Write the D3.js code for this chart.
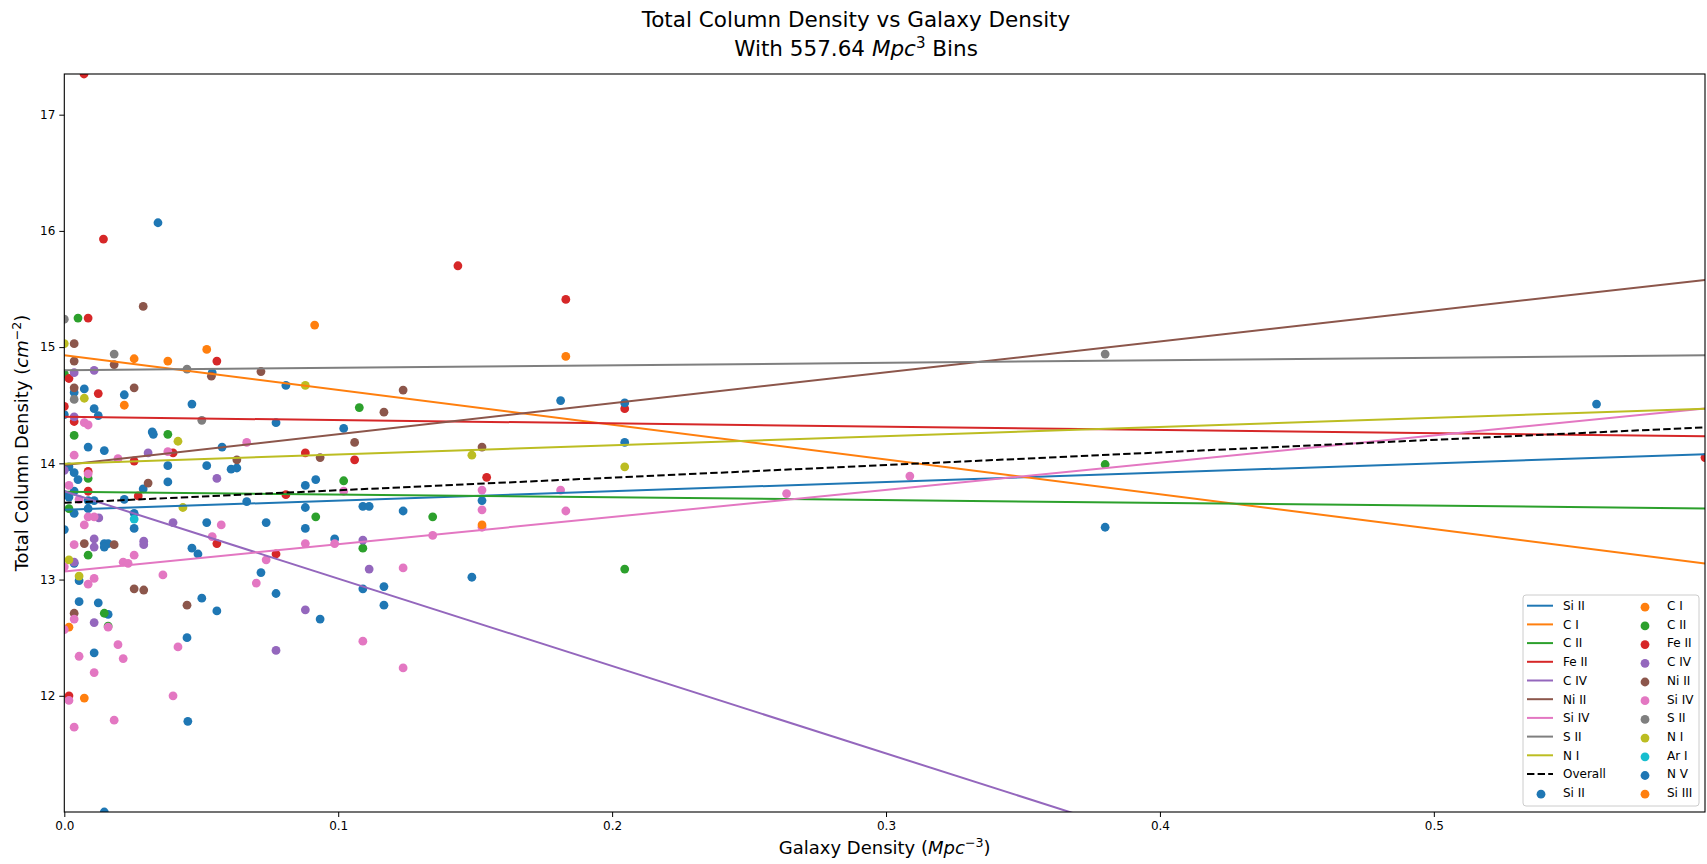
<!DOCTYPE html>
<html>
<head>
<meta charset="utf-8">
<script src="https://cdn.jsdelivr.net/npm/d3@7"></script>
<style>
  body { margin: 0; background: #fff; }
  svg { display: block; font-family: "DejaVu Sans", sans-serif; }
</style>
</head>
<body>
<svg id="chart" width="1707" height="864"></svg>
<script>
// 拟合直线：每个离子的截距和斜率
const lineIons = ["Si II", "C I", "C II", "Fe II", "C IV", "Ni II", "Si IV", "S II", "N I"];
const lineIntercepts = [13.60, 14.93, 13.756, 14.40, 13.76, 13.985, 13.07, 14.80, 13.997];
const lineSlopes = [0.80, -2.99, -0.24, -0.28, -7.52, 2.66, 2.34, 0.217, 0.79];
const overallIntercept = 13.66;
const overallSlope = 1.085;

// 散点数据 [星系密度, 总柱密度]
const pointsSiII = [
  [0.0342, 16.07], [0.0540, 14.78], [0.0809, 14.67], [0.1020, 14.30], [0.0773, 14.35],
  [0.0466, 14.51], [0.0219, 14.59], [0.0109, 14.47], [0.0124, 14.41], [0.0073, 14.64],
  [0.0036, 14.61], [0, 14.42], [0.0321, 14.27], [0.0325, 14.25], [0.0087, 14.14],
  [0.0146, 14.11], [0.0576, 14.14], [0.0378, 13.98], [0.0520, 13.98], [0.0609, 13.95],
  [0.0630, 13.96], [0.0017, 13.97], [0.0036, 13.92], [0.0050, 13.86], [0.0288, 13.78],
  [0.0378, 13.84], [0.0666, 13.67], [0.0880, 13.81], [0.0918, 13.86], [0.0880, 13.62],
  [0.0880, 13.44], [0.0987, 13.35], [0.1090, 13.63], [0.1113, 13.63], [0.1090, 12.92],
  [0.1167, 12.94], [0.1167, 12.78], [0.0934, 12.66], [0.0773, 12.88], [0.0718, 13.06],
  [0.0737, 13.49], [0.0520, 13.49], [0.0466, 13.27], [0.0488, 13.22], [0.0502, 12.84],
  [0.0557, 12.73], [0.0448, 12.50], [0.0451, 11.78], [0.0146, 13.31], [0.0160, 13.31],
  [0.0146, 13.28], [0.0255, 13.44], [0.0255, 13.57], [0.0219, 13.69], [0.0087, 13.61],
  [0.0109, 13.68], [0.0036, 13.14], [0.0054, 12.99], [0.0054, 12.81], [0.0124, 12.80],
  [0.0160, 12.70], [0.0109, 12.37], [0.0146, 11.00], [0, 13.43], [0, 13.73],
  [0.0017, 13.71], [0.0036, 13.76], [0.0087, 13.68], [0.0036, 13.57], [0.1237, 13.59]
];
const pointsCI = [
  [0.0914, 15.19], [0.0520, 14.98], [0.0255, 14.90], [0.0378, 14.88], [0.1831, 14.92],
  [0.0219, 14.50], [0.0017, 12.59], [0.0073, 11.98]
];
const pointsCII = [
  [0.0050, 15.25], [0.1077, 14.48], [0.0036, 14.24], [0.0378, 14.25], [0.0087, 13.87],
  [0.1020, 13.85], [0.0918, 13.54], [0.1090, 13.27], [0.0087, 13.21], [0.0017, 13.61],
  [0.0146, 12.71], [0.0160, 12.60], [0.1345, 13.54], [0.2046, 13.09], [0.3800, 13.99],
  [0, 14.77]
];
const pointsFeII = [
  [0.0072, 17.35], [0.0143, 15.93], [0.1437, 15.70], [0.1831, 15.41], [0.0087, 15.25],
  [0.0557, 14.88], [0.0017, 14.73], [0.0124, 14.60], [0, 14.49], [0.0036, 14.36],
  [0.0880, 14.09], [0.1060, 14.03], [0.0397, 14.09], [0.0255, 14.02], [0.0087, 13.93],
  [0.0087, 13.76], [0.0270, 13.72], [0.0809, 13.73], [0.0773, 13.22], [0.0557, 13.31],
  [0.0017, 12.00], [0.2046, 14.47], [0.1542, 13.88], [0.5990, 14.05]
];
const pointsCIV = [
  [0.0036, 14.78], [0.0109, 14.80], [0.0036, 14.40], [0.0306, 14.09], [0, 13.94],
  [0.0557, 13.87], [0.1090, 13.34], [0.1113, 13.09], [0.0880, 12.74], [0.0773, 12.39],
  [0.0397, 13.49], [0.0290, 13.33], [0.0290, 13.30], [0.0126, 13.53], [0.0109, 13.35],
  [0.0109, 13.28], [0.0036, 13.15], [0.0109, 12.63]
];
const pointsNiII = [
  [0.0288, 15.35], [0.0036, 15.03], [0.0036, 14.88], [0.0182, 14.85], [0.0537, 14.75],
  [0.0718, 14.79], [0.1167, 14.44], [0.1237, 14.63], [0.0255, 14.65], [0.0036, 14.65],
  [0.1060, 14.18], [0.0934, 14.05], [0.0630, 14.03], [0.0306, 13.83], [0.0448, 12.78],
  [0.0255, 12.92], [0.0290, 12.91], [0.0182, 13.30], [0.0073, 13.31], [0.0036, 12.71],
  [0.1525, 14.14]
];
const pointsSiIV = [
  [0.0073, 14.35], [0.0087, 14.33], [0.0666, 14.18], [0.0036, 14.07], [0.0196, 14.04],
  [0.0378, 14.10], [0.0017, 13.81], [0.0087, 13.91], [0.1020, 13.76], [0.0987, 13.31],
  [0.0880, 13.31], [0.1090, 12.47], [0.0701, 12.97], [0.0737, 13.17], [0.0573, 13.47],
  [0.0540, 13.37], [0.0360, 13.04], [0.0415, 12.42], [0.0397, 12.00], [0.0255, 13.21],
  [0.0215, 13.15], [0.0233, 13.14], [0.0109, 13.54], [0.0087, 13.54], [0.0073, 13.47],
  [0.0036, 13.30], [0, 13.11], [0.0087, 12.96], [0.0109, 13.01], [0.0036, 12.66],
  [0, 12.57], [0.0160, 12.59], [0.0054, 12.34], [0.0196, 12.44], [0.0215, 12.32],
  [0.0109, 12.20], [0.0017, 11.96], [0.0036, 11.73], [0.0182, 11.79], [0.0054, 13.69],
  [0.1525, 13.77], [0.1525, 13.60], [0.1525, 13.45], [0.1812, 13.77], [0.1831, 13.59],
  [0.1345, 13.38], [0.2637, 13.74], [0.1237, 13.10], [0.1237, 12.24], [0.3087, 13.89]
];
const pointsSII = [[0, 15.24], [0.0182, 14.94], [0.0448, 14.81], [0.0036, 14.55], [0.0502, 14.37], [0.3800, 14.94]];
const pointsNI = [
  [0, 15.03], [0.0073, 14.56], [0.0880, 14.67], [0.0415, 14.19], [0.0433, 13.62],
  [0.0017, 13.17], [0.0054, 13.03], [0.1488, 14.07], [0.2046, 13.97]
];
const pointsArI = [[0.0255, 13.52]];
const pointsNV = [[0.1525, 13.68], [0.1488, 13.02], [0.1812, 14.54], [0.2046, 14.52], [0.2046, 14.18], [0.3800, 13.45], [0.5594, 14.51]];
const pointsSiIII = [[0.1525, 13.47]];

const scatterIons = ["Si II", "C I", "C II", "Fe II", "C IV", "Ni II", "Si IV", "S II", "N I", "Ar I", "N V", "Si III"];
const scatterPoints = [pointsSiII, pointsCI, pointsCII, pointsFeII, pointsCIV, pointsNiII,
  pointsSiIV, pointsSII, pointsNI, pointsArI, pointsNV, pointsSiIII];

// matplotlib tab10 颜色循环
const tab10 = ["#1f77b4", "#ff7f0e", "#2ca02c", "#d62728", "#9467bd",
  "#8c564b", "#e377c2", "#7f7f7f", "#bcbd22", "#17becf"];

const svg = d3.select("#chart");
const plot = { left: 64.3, right: 1705, top: 74, bottom: 812 };

const allPoints = scatterPoints.flat();
const x = d3.scaleLinear().domain(d3.extent(allPoints, d => d[0])).range([plot.left, plot.right]);
const y = d3.scaleLinear().domain(d3.extent(allPoints, d => d[1])).range([plot.bottom, plot.top]);

// 裁剪区域
svg.append("defs").append("clipPath").attr("id", "clip")
  .append("rect")
  .attr("x", plot.left).attr("y", plot.top)
  .attr("width", plot.right - plot.left).attr("height", plot.bottom - plot.top);

const g = svg.append("g").attr("clip-path", "url(#clip)");

// 散点
scatterPoints.forEach((pts, i) => {
  g.append("g").selectAll("circle")
    .data(pts)
    .enter().append("circle")
    .attr("cx", d => x(d[0]))
    .attr("cy", d => y(d[1]))
    .attr("r", 4.4)
    .attr("fill", tab10[i % 10]);
});

// 拟合线
const [x0, x1] = x.domain();
lineIons.forEach((ion, i) => {
  g.append("line")
    .attr("x1", x(x0)).attr("y1", y(lineIntercepts[i] + lineSlopes[i] * x0))
    .attr("x2", x(x1)).attr("y2", y(lineIntercepts[i] + lineSlopes[i] * x1))
    .attr("stroke", tab10[i]).attr("stroke-width", 2);
});
g.append("line")
  .attr("x1", x(x0)).attr("y1", y(overallIntercept + overallSlope * x0))
  .attr("x2", x(x1)).attr("y2", y(overallIntercept + overallSlope * x1))
  .attr("stroke", "#000").attr("stroke-width", 2)
  .attr("stroke-dasharray", "7.4,3.2");

// 坐标轴
const xAxis = svg.append("g")
  .attr("transform", `translate(0,${plot.bottom})`)
  .call(d3.axisBottom(x).tickValues([0, 0.1, 0.2, 0.3, 0.4, 0.5]).tickFormat(d3.format(".1f")).tickSize(5).tickPadding(4));
const yAxis = svg.append("g")
  .attr("transform", `translate(${plot.left},0)`)
  .call(d3.axisLeft(y).tickValues([12, 13, 14, 15, 16, 17]).tickFormat(d3.format("d")).tickSize(5).tickPadding(4));
[xAxis, yAxis].forEach(a => {
  a.select(".domain").remove();
  a.selectAll("text").attr("font-size", 12).attr("font-family", "DejaVu Sans").attr("fill", "#000");
  a.selectAll("line").attr("stroke", "#000").attr("stroke-width", 1);
});

// 边框
svg.append("rect")
  .attr("x", plot.left).attr("y", plot.top)
  .attr("width", plot.right - plot.left).attr("height", plot.bottom - plot.top)
  .attr("fill", "none").attr("stroke", "#000").attr("stroke-width", 1.1);

// 标题
const title = svg.append("text").attr("text-anchor", "middle").attr("font-size", 21.5).attr("fill", "#000");
title.append("tspan").attr("x", 856).attr("y", 27).text("Total Column Density vs Galaxy Density");
const t2 = title.append("tspan").attr("x", 856).attr("y", 56);
t2.append("tspan").text("With 557.64 ");
t2.append("tspan").attr("font-style", "italic").text("Mpc");
t2.append("tspan").attr("font-size", 15).attr("dy", -8).text("3");
t2.append("tspan").attr("dy", 8).text(" Bins");

// 轴标题
const xl = svg.append("text").attr("x", (plot.left + plot.right) / 2).attr("y", 854)
  .attr("text-anchor", "middle").attr("font-size", 18).attr("fill", "#000");
xl.append("tspan").text("Galaxy Density (");
xl.append("tspan").attr("font-style", "italic").text("Mpc");
xl.append("tspan").attr("font-size", 12.6).attr("dy", -7).text("−3");
xl.append("tspan").attr("dy", 7).text(")");

const yl = svg.append("text")
  .attr("transform", `translate(28,${(plot.top + plot.bottom) / 2}) rotate(-90)`)
  .attr("text-anchor", "middle").attr("font-size", 18).attr("fill", "#000");
yl.append("tspan").text("Total Column Density (");
yl.append("tspan").attr("font-style", "italic").text("cm");
yl.append("tspan").attr("font-size", 12.6).attr("dy", -7).text("−2");
yl.append("tspan").attr("dy", 7).text(")");

// 图例
const legendEntries = lineIons.map((ion, i) => ({ label: ion, type: "line", color: tab10[i] }))
  .concat([{ label: "Overall", type: "dash", color: "#000" }])
  .concat(scatterIons.map((ion, i) => ({ label: ion, type: "dot", color: tab10[i % 10] })));

const legend = svg.append("g");
legend.append("rect")
  .attr("x", 1523).attr("y", 595).attr("width", 176).attr("height", 211)
  .attr("rx", 3).attr("fill", "#fff").attr("fill-opacity", 0.8)
  .attr("stroke", "#cccccc").attr("stroke-width", 1);

const rowH = 18.7;
legendEntries.forEach((e, i) => {
  const col = Math.floor(i / 11), row = i % 11;
  const hx = col === 0 ? 1527 : 1631;
  const cy = 605.7 + row * rowH;
  if (e.type === "dot") {
    legend.append("circle").attr("cx", hx + 14).attr("cy", cy + 1.5).attr("r", 4.4).attr("fill", e.color);
  } else {
    legend.append("line").attr("x1", hx).attr("x2", hx + 26).attr("y1", cy).attr("y2", cy)
      .attr("stroke", e.color).attr("stroke-width", 2)
      .attr("stroke-dasharray", e.type === "dash" ? "7.4,3.2" : null);
  }
  legend.append("text").attr("x", hx + 36).attr("y", cy + 4.3)
    .attr("font-size", 12).attr("fill", "#000").text(e.label);
});
</script>
</body>
</html>
